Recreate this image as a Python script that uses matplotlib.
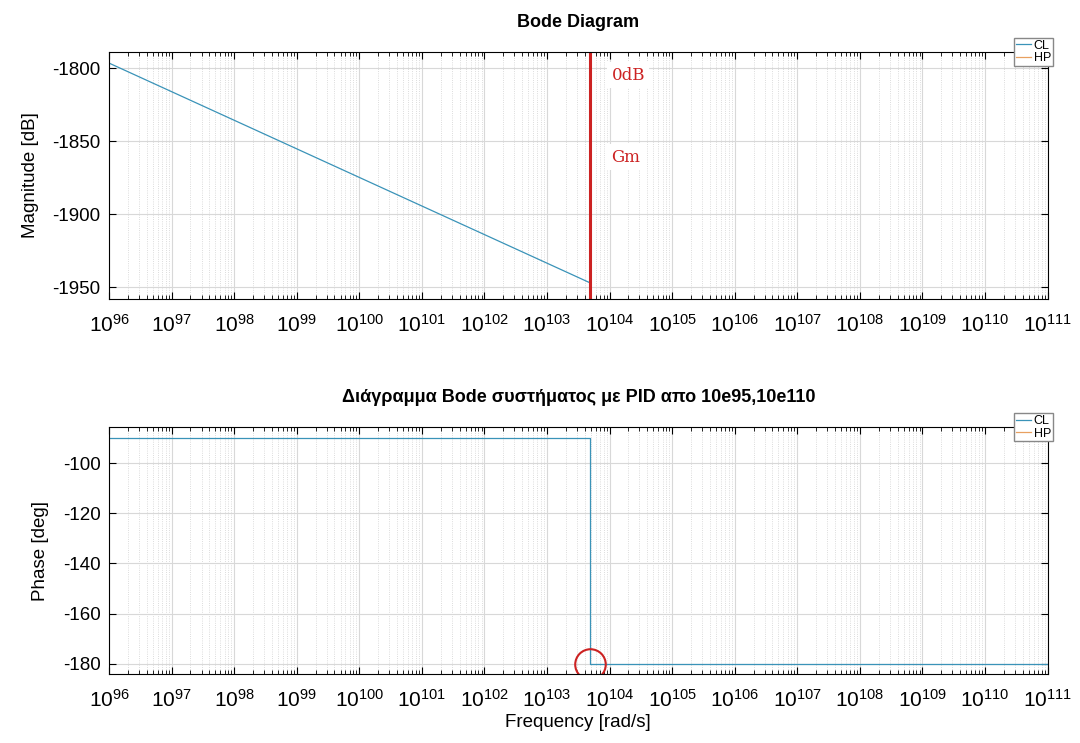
import numpy as np
import matplotlib
matplotlib.use("Agg")
import matplotlib.pyplot as plt
from matplotlib.ticker import LogLocator, NullFormatter

plt.rcParams['font.family'] = ['Liberation Sans', 'DejaVu Sans']
plt.rcParams['axes.unicode_minus'] = False
plt.rcParams['mathtext.fontset'] = 'custom'
plt.rcParams['mathtext.rm'] = 'Liberation Sans'

# magnitude (line stops at the crossover)
w_mag = [1e96, 10**103.68]
mag = [-1796.6, -1947.0]

# phase step at the crossover
w_ph = [1e96, 10**103.68, 10**103.68, 1e111]
phase = [-90.0, -90.0, -180.0, -180.0]

w_cross = 10**103.68
ph_cross = -180.0

mag_ticks = [-1800, -1850, -1900, -1950]
ph_ticks = [-100, -120, -140, -160, -180]
decades = list(range(96, 112))

line_c = '#3a93b8'
red = '#cc2222'

fig = plt.figure(figsize=(10.8, 7.43), dpi=100)
ax1 = fig.add_axes([0.101, 0.598, 0.869, 0.332])
ax2 = fig.add_axes([0.101, 0.093, 0.869, 0.332])


def style(ax):
    ax.set_xscale('log')
    ax.set_xlim(1e96, 1e111)
    ax.set_xticks([10.0**d for d in decades])
    ax.set_xticklabels([r'$\mathregular{10^{%d}}$' % d for d in decades])
    ax.xaxis.set_minor_locator(LogLocator(base=10, subs=np.arange(2, 10), numticks=200))
    ax.xaxis.set_minor_formatter(NullFormatter())
    ax.grid(True, which='major', color='#d8d8d8', lw=0.8)
    ax.grid(True, which='minor', color='#d0d0d0', lw=0.6, ls=':')
    ax.tick_params(which='both', direction='in', top=True, right=True)
    ax.tick_params(which='major', length=5, pad=6)
    ax.tick_params(axis='x', labelsize=15, pad=11)
    ax.tick_params(which='minor', length=3)
    ax.tick_params(axis='y', labelsize=13.5)
    for s in ax.spines.values():
        s.set_linewidth(0.8)


style(ax1)
ax1.plot(w_mag, mag, color=line_c, lw=0.9, label='CL')
ax1.plot([], [], color='#e8a060', lw=0.9, label='HP')
ax1.axvline(w_cross, color=red, lw=2.2)
ax1.set_ylim(-1958, -1789)
ax1.set_yticks(mag_ticks)
ax1.set_ylabel('Magnitude [dB]', fontsize=13.5, labelpad=10)
ax1.set_title('Bode Diagram', fontsize=13, fontweight='bold', pad=18)
ax1.text(10**104.03, -1804.8, '0dB', color=red, fontsize=12, family='DejaVu Serif',
         ha='left', va='center', bbox=dict(fc='white', ec='none', pad=3))
ax1.text(10**104.03, -1861, 'Gm', color=red, fontsize=12, family='DejaVu Serif',
         ha='left', va='center', bbox=dict(fc='white', ec='none', pad=3))
ax1.legend(loc='center', bbox_to_anchor=(0.985, 1.0), fontsize=9, handlelength=1.2,
           handletextpad=0.2, labelspacing=0.05, borderpad=0.15, borderaxespad=0,
           fancybox=False, edgecolor='#888888', framealpha=1)

style(ax2)
ax2.plot(w_ph, phase, color=line_c, lw=0.9, label='CL')
ax2.plot([], [], color='#e8a060', lw=0.9, label='HP')
ax2.plot([w_cross], [ph_cross], 'o', ms=22, mfc='none', mec=red, mew=1.5)
ax2.set_ylim(-184, -85.7)
ax2.set_yticks(ph_ticks)
ax2.set_ylabel('Phase [deg]', fontsize=13.5, labelpad=10)
ax2.set_xlabel('Frequency [rad/s]', fontsize=13.5, labelpad=2)
ax2.set_title('Διάγραμμα Bode συστήματος με PID απο 10e95,10e110', fontsize=13,
              fontweight='bold', pad=18)
ax2.legend(loc='center', bbox_to_anchor=(0.985, 1.0), fontsize=9, handlelength=1.2,
           handletextpad=0.2, labelspacing=0.05, borderpad=0.15, borderaxespad=0,
           fancybox=False, edgecolor='#888888', framealpha=1)

fig.savefig('out.png', dpi=100)
